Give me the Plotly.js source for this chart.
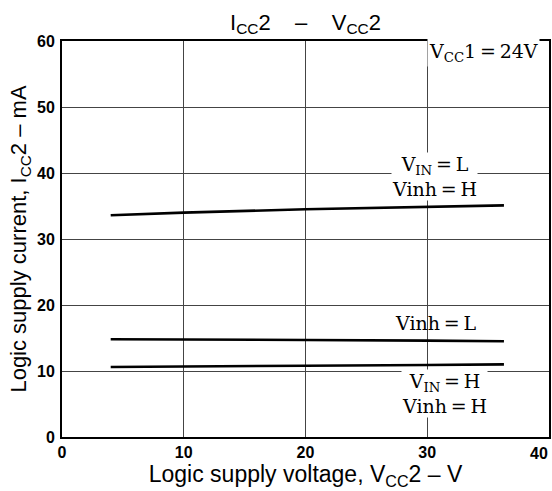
<!DOCTYPE html>
<html>
<head>
<meta charset="utf-8">
<script src="https://cdn.plot.ly/plotly-3.0.1.min.js"></script>
<style>html,body{margin:0;padding:0;background:#fff;}#chart{width:552px;height:491px;}</style>
</head>
<body>
<div id="chart"></div>
<script>
// Logic supply voltage Vcc2 (V)
const vcc2 = [4, 10, 20, 30, 36.3];
// Logic supply current Icc2 (mA)
const iccVinLVinhH = [33.6, 34.0, 34.5, 34.9, 35.1];
const iccVinhL = [14.8, 14.8, 14.7, 14.6, 14.5];
const iccVinHVinhH = [10.6, 10.7, 10.8, 10.9, 11.0];

const xTicks = [0, 10, 20, 30, 40];
const xTickText = ['0', '10', '20', '30', ''];
const xLastTickText = '40';
const yTicks = [0, 10, 20, 30, 40, 50, 60];

const lineStyle = {color: '#000', width: 2.6};
const traces = [
  {x: vcc2, y: iccVinLVinhH, mode: 'lines', line: lineStyle, name: 'VIN=L, Vinh=H'},
  {x: vcc2, y: iccVinhL, mode: 'lines', line: lineStyle, name: 'Vinh=L'},
  {x: vcc2, y: iccVinHVinhH, mode: 'lines', line: lineStyle, name: 'VIN=H, Vinh=H'}
];

const serif = {family: 'DejaVu Serif, Liberation Serif, serif', size: 19, color: '#000'};
const sans = 'Liberation Sans, Arial, sans-serif';
const tickFont = {family: sans, size: 16, color: '#000', weight: 'bold'};
const eq = '\u2009=\u2009';

const layout = {
  width: 552, height: 491,
  margin: {l: 62, r: 3, t: 41, b: 54},
  paper_bgcolor: '#fff', plot_bgcolor: '#fff',
  showlegend: false,
  title: {
    text: 'I<sub>CC</sub>2    –    V<sub>CC</sub>2',
    font: {family: sans, size: 22, color: '#000'},
    x: 0.5, xref: 'paper', xanchor: 'center', y: 0.955, yref: 'container', yanchor: 'middle'
  },
  xaxis: {
    range: [0, 40], tickvals: xTicks, ticktext: xTickText,
    showgrid: true, gridcolor: '#444', gridwidth: 1,
    zeroline: false, showline: true, linecolor: '#000', linewidth: 2, mirror: true,
    ticks: '', ticklabeloverflow: 'allow',
    tickfont: tickFont,
    title: {text: 'Logic supply voltage, V<sub>CC</sub>2 – V', standoff: 1,
      font: {family: sans, size: 23, color: '#000'}}
  },
  yaxis: {
    range: [0, 60], tickvals: yTicks, ticktext: yTicks.map(String),
    showgrid: true, gridcolor: '#444', gridwidth: 1,
    zeroline: false, showline: true, linecolor: '#000', linewidth: 2, mirror: true,
    ticks: '', ticklabelstandoff: 2, ticklabeloverflow: 'allow',
    tickfont: tickFont,
    title: {text: 'Logic supply current, I<sub>CC</sub>2 – mA', standoff: 4,
      font: {family: sans, size: 22, color: '#000'}}
  },
  annotations: [
    {x: 40, y: 0, xref: 'x', yref: 'y', xanchor: 'right', yanchor: 'top', yshift: -6, xshift: 1,
     text: xLastTickText, showarrow: false, font: tickFont},
    {x: 0.981, y: 0.972, xref: 'paper', yref: 'paper', xanchor: 'right', yanchor: 'middle',
     text: 'V<sub>CC</sub>1' + eq + '24V', showarrow: false, font: serif, bgcolor: '#fff', borderpad: 1},
    {x: 30.6, y: 39.4, xref: 'x', yref: 'y', xanchor: 'center', yanchor: 'middle',
     text: 'V<sub>IN</sub>' + eq + 'L<br>Vinh' + eq + 'H', showarrow: false, font: serif, bgcolor: '#fff', borderpad: 0},
    {x: 30.7, y: 17.3, xref: 'x', yref: 'y', xanchor: 'center', yanchor: 'middle',
     text: 'Vinh' + eq + 'L', showarrow: false, font: serif},
    {x: 31.4, y: 6.6, xref: 'x', yref: 'y', xanchor: 'center', yanchor: 'middle',
     text: 'V<sub>IN</sub>' + eq + 'H<br>Vinh' + eq + 'H', showarrow: false, font: serif, bgcolor: '#fff', borderpad: 0}
  ]
};

Plotly.newPlot('chart', traces, layout, {displayModeBar: false, staticPlot: true});
</script>
</body>
</html>
